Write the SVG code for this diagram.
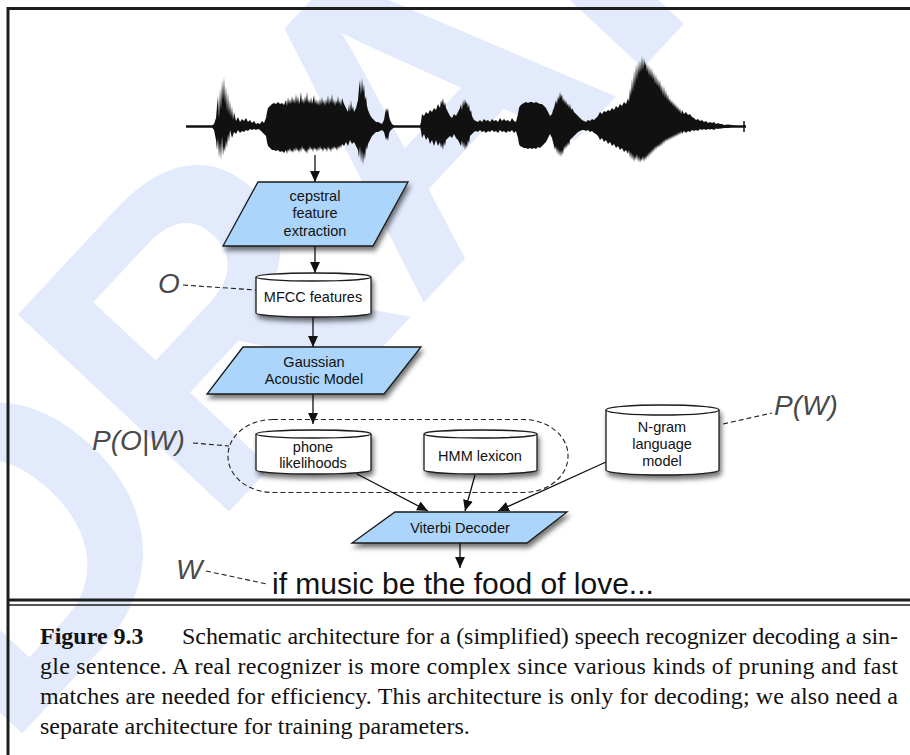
<svg xmlns="http://www.w3.org/2000/svg" width="910" height="755" viewBox="0 0 910 755">
<defs>
<style>
.node text{font-family:"Liberation Sans",Arial,sans-serif;font-size:14.5px;fill:#111;text-anchor:middle}
.para{fill:#abd5fb;stroke:#1a1a1a;stroke-width:1.3}
.cyl{fill:#fff;stroke:#1a1a1a;stroke-width:1.3}
.lbl{font-family:"Liberation Sans",Arial,sans-serif;font-style:italic;font-size:28px;fill:#4a4a4a}
.arr{stroke:#111;stroke-width:1.3;fill:none;marker-end:url(#ah)}
.dash{stroke:#222;stroke-width:1.1;fill:none;stroke-dasharray:5 3}
.cap{font-family:"Liberation Serif","Times New Roman",serif;font-size:24px;fill:#111}
</style>
<marker id="ah" viewBox="0 0 10 10" refX="10" refY="5" markerWidth="11" markerHeight="11" markerUnits="userSpaceOnUse" orient="auto"><path d="M0,0.5 L10,5 L0,9.5 z" fill="#111"/></marker>
<filter id="sh" x="-20%" y="-30%" width="150%" height="180%"><feDropShadow dx="2" dy="4" stdDeviation="2.5" flood-color="#000" flood-opacity="0.55"/></filter>
</defs>
<rect width="910" height="755" fill="#fff"/>
<text id="watermark" transform="translate(3,754) rotate(-47)" font-family="Liberation Sans,Arial,sans-serif" font-weight="bold" font-size="420" fill="#e2eafb">DRAFT</text>
<g id="frame" stroke="#1e1e1e" fill="none">
<line x1="8" y1="8.5" x2="910" y2="8.5" stroke-width="3"/>
<line x1="8" y1="7" x2="8" y2="755" stroke-width="3"/>
<line x1="8" y1="600" x2="910" y2="600" stroke-width="3"/>
<line x1="8" y1="605" x2="910" y2="605" stroke-width="1.5"/>
</g>
<g id="waveform" fill="#111">
<line x1="186" y1="126.5" x2="746" y2="126.5" stroke="#111" stroke-width="2"/>
<line x1="744" y1="121" x2="744" y2="132" stroke="#111" stroke-width="1.5"/>
<path d="M186,125.5 L212,125.5 214,124 216,118 217,106 218,96 219,118 220,88 221,110 222,80 223,100 224,77 225,104 226,86 227,112 228,92 229,115 230,100 231,117 232,106 233,120 234,112 236,121 238,117 240,122 242,119 244,121 246,118 248,122 250,120 252,123 254,121 256,124 258,123 260,124 262,121 264,123 266,118 267,112 268,108 270,106 272,104 274,103 276,104 278,102 280,104 282,103 284,105 286,100 287,106 288,97 289,104 290,99 291,104 292,96 293,103 294,98 295,104 296,94 297,103 298,96 299,104 300,100 301,92 302,103 303,98 304,104 305,96 306,102 307,92 308,103 309,99 310,104 311,97 312,104 313,100 314,95 315,104 316,99 317,105 318,100 319,106 320,98 321,105 322,97 323,104 324,100 325,106 326,99 327,104 328,95 329,105 330,98 331,103 332,94 333,104 334,99 335,106 336,100 337,104 338,96 339,104 340,100 341,106 342,98 344,104 346,108 348,112 349,104 350,112 351,100 352,110 353,106 354,112 356,108 358,100 359,88 360,80 361,95 362,78 363,92 364,84 365,100 366,96 367,106 368,110 370,115 372,118 374,120 376,122 378,122 380,123 382,124 384,120 385,114 386,108 387,112 388,108 389,116 390,120 392,124 394,125.5 420,125.5 421,122 422,114 424,116 426,112 428,114 430,110 432,112 434,108 436,110 438,104 440,108 441,100 442,104 443,98 444,106 445,102 446,108 448,112 450,116 452,118 454,114 456,116 458,112 460,108 461,104 462,110 463,100 464,106 465,99 466,104 467,102 468,108 469,104 470,112 471,110 472,116 474,120 476,121 478,122 480,120 482,122 484,119 486,121 488,120 490,122 492,119 494,121 496,120 498,122 500,118 502,121 504,119 506,121 508,120 510,122 512,118 514,121 516,122 518,114 519,108 520,106 522,104 524,103 526,102 528,103 530,102 532,102 534,103 536,102 538,103 540,104 542,104 544,106 546,108 548,112 550,116 552,114 553,110 554,108 555,104 556,100 557,104 558,96 559,100 560,92 561,98 562,94 563,102 564,98 565,104 566,100 567,106 568,103 569,108 570,104 571,110 572,108 574,112 576,114 578,116 580,118 582,120 584,121 586,122 588,120 590,121 592,119 594,120 596,118 598,116 600,112 602,114 604,111 606,112 608,110 610,111 612,108 614,110 616,106 618,108 620,104 622,106 624,102 626,104 628,98 629,102 630,88 631,96 632,78 633,92 634,70 635,86 636,64 637,80 638,62 639,74 640,60 641,72 642,56 643,70 644,58 645,66 646,62 647,72 648,64 649,76 650,66 651,78 652,68 653,80 654,72 655,84 656,74 657,86 658,78 659,88 660,80 661,92 662,84 663,96 664,86 665,98 666,90 667,100 668,94 669,102 670,98 671,104 672,100 673,106 674,102 675,108 676,104 677,110 678,106 679,112 680,108 681,114 682,110 684,114 686,112 688,115 690,114 692,117 694,118 696,120 698,119 700,121 702,120 704,122 706,121 708,123 710,122 712,123 714,122 716,124 718,123 720,124 722,124 724,125 728,124.5 732,125 736,125.5 746,125.5 746,126.5 186,126.5 Z"/>
<path d="M186,127.5 L212,127.5 214,130 216,140 217,150 218,138 219,158 220,142 221,160 222,136 223,156 224,146 225,152 226,140 227,148 228,134 229,142 230,130 232,138 234,132 236,134 238,130 240,133 242,131 244,132 246,130 248,131 250,129 252,130 254,129 256,130 258,129 260,130 262,132 264,134 266,136 267,142 268,146 270,148 272,150 274,150 276,151 278,150 280,152 282,151 284,153 286,150 287,154 288,149 289,152 290,148 291,152 292,150 293,153 294,148 295,152 296,147 297,151 298,149 299,153 300,148 301,152 302,146 303,150 304,148 305,152 306,150 307,154 308,148 309,151 310,146 311,150 312,148 313,152 314,147 315,150 316,148 317,152 318,147 319,151 320,146 321,150 322,148 323,152 324,147 325,150 326,148 327,152 328,146 329,150 330,148 331,152 332,147 333,150 334,146 335,149 336,147 337,151 338,146 339,149 340,145 341,148 342,144 344,146 346,142 348,146 350,140 352,144 354,142 356,146 358,150 359,158 360,146 361,162 362,150 363,165 364,152 365,160 366,146 367,150 368,144 370,140 372,136 374,134 376,132 378,132 380,131 382,130 384,132 385,136 386,140 387,137 388,141 389,134 390,131 392,129 394,127.5 420,127.5 421,131 422,138 424,134 426,140 428,137 430,144 432,140 434,146 436,140 438,146 440,142 441,148 442,144 443,150 444,142 445,146 446,140 448,138 450,136 452,138 454,134 456,138 458,140 460,144 461,146 462,140 463,148 464,142 465,150 466,144 467,148 468,140 469,144 470,136 472,134 474,132 476,131 478,132 480,130 482,132 484,131 486,133 488,131 490,132 492,130 494,132 496,131 498,133 500,130 502,132 504,131 506,133 508,131 510,132 512,130 514,133 516,131 518,138 519,144 520,146 522,147 524,148 526,148 528,149 530,148 532,149 534,148 536,149 538,147 540,148 542,146 544,144 546,142 548,138 550,134 552,138 553,142 554,146 555,150 556,146 557,154 558,148 559,156 560,150 561,157 562,150 563,155 564,146 565,150 566,144 567,148 568,142 569,146 570,140 572,138 574,136 576,134 578,132 580,131 582,130 584,130 586,131 588,130 590,132 592,131 594,133 596,134 598,136 600,140 602,138 604,142 606,140 608,144 610,142 612,146 614,144 616,148 618,146 620,150 622,148 624,152 626,150 628,154 629,150 630,158 631,152 632,160 633,154 634,162 635,156 636,160 637,154 638,162 639,156 640,163 641,158 642,161 643,156 644,162 645,156 646,160 647,154 648,158 649,152 650,156 651,150 652,154 653,148 654,152 655,146 656,150 657,145 658,148 659,144 660,147 661,142 662,146 663,140 664,144 665,139 666,142 667,138 668,141 669,137 670,140 671,136 672,139 673,135 674,138 675,134 676,137 677,133 678,136 679,132 680,135 681,131 682,134 684,131 686,133 688,131 690,132 692,130 694,131 696,130 698,131 700,129 702,130 704,129 706,130 708,129 710,129.5 712,129 714,130 716,128.5 718,129 720,128.5 722,128.5 724,128 728,128 732,127.5 736,127.5 746,127.5 746,126.5 186,126.5 Z"/>
</g>
<g id="connectors">
<line class="arr" x1="315" y1="155" x2="315" y2="182"/>
<line class="arr" x1="315" y1="246" x2="315" y2="273"/>
<line class="arr" x1="313" y1="317" x2="313" y2="347"/>
<line class="arr" x1="313" y1="394" x2="313" y2="424"/>
<line class="arr" x1="357" y1="474" x2="428" y2="511"/>
<line class="arr" x1="475" y1="475" x2="465" y2="511"/>
<line class="arr" x1="606" y1="462" x2="498" y2="511"/>
<line class="arr" x1="460" y1="543" x2="460" y2="568"/>
<line class="dash" x1="183" y1="285" x2="256" y2="290"/>
<line class="dash" x1="193" y1="443" x2="229" y2="446"/>
<line class="dash" x1="723" y1="424" x2="772" y2="413"/>
<line class="dash" x1="206" y1="571" x2="267" y2="584"/>
<rect class="dash" x="228" y="419.5" width="340" height="73" rx="45" ry="36" stroke-dasharray="6 4"/>
</g>
<g id="cepstral" class="node">
<path class="para" filter="url(#sh)" d="M258,182 L408,182 L373,246 L223,246 Z"/>
<text x="315" y="201">cepstral</text>
<text x="315" y="218">feature</text>
<text x="315" y="236">extraction</text>
</g>
<g id="mfcc" class="node">
<path class="cyl" filter="url(#sh)" d="M256,277 A57.5,4 0 0 1 371,277 V313 A57.5,4 0 0 1 256,313 Z"/>
<path class="cyl" d="M256,277 A57.5,4 0 0 0 371,277"/>
<text x="313" y="302">MFCC features</text>
</g>
<g id="gaussian" class="node">
<path class="para" filter="url(#sh)" d="M243,347 L421,347 L384,394 L207,394 Z"/>
<text x="314" y="367">Gaussian</text>
<text x="314" y="384">Acoustic Model</text>
</g>
<g id="phone" class="node">
<path class="cyl" filter="url(#sh)" d="M256,434 A57.5,4 0 0 1 371,434 V470 A57.5,4 0 0 1 256,470 Z"/>
<path class="cyl" d="M256,434 A57.5,4 0 0 0 371,434"/>
<text x="313" y="452">phone</text>
<text x="313" y="468">likelihoods</text>
</g>
<g id="hmm" class="node">
<path class="cyl" filter="url(#sh)" d="M424,434 A56.5,4 0 0 1 537,434 V470 A56.5,4 0 0 1 424,470 Z"/>
<path class="cyl" d="M424,434 A56.5,4 0 0 0 537,434"/>
<text x="480" y="461">HMM lexicon</text>
</g>
<g id="ngram" class="node">
<path class="cyl" filter="url(#sh)" d="M606,410 A56.5,5 0 0 1 719,410 V470 A56.5,5 0 0 1 606,470 Z"/>
<path class="cyl" d="M606,410 A56.5,5 0 0 0 719,410"/>
<text x="662" y="432">N-gram</text>
<text x="662" y="449">language</text>
<text x="662" y="466">model</text>
</g>
<g id="viterbi" class="node">
<path class="para" filter="url(#sh)" d="M395,512 L567,512 L527,543 L352,543 Z"/>
<text x="460" y="533">Viterbi Decoder</text>
</g>
<g id="labels">
<text class="lbl" x="158" y="293">O</text>
<text class="lbl" x="92" y="450">P(O|W)</text>
<text class="lbl" x="774" y="415">P(W)</text>
<text class="lbl" x="176" y="579">W</text>
<text x="272" y="594" font-family="Liberation Sans,Arial,sans-serif" font-size="30" fill="#111">if music be the food of love...</text>
</g>
<g id="caption">
<text class="cap" x="40" y="644"><tspan font-weight="bold">Figure 9.3</tspan></text>
<text class="cap" x="182" y="644" textLength="716" lengthAdjust="spacing">Schematic architecture for a (simplified) speech recognizer decoding a sin-</text>
<text class="cap" x="40" y="674" textLength="858" lengthAdjust="spacing">gle sentence.  A real recognizer is more complex since various kinds of pruning and fast</text>
<text class="cap" x="40" y="704" textLength="858" lengthAdjust="spacing">matches are needed for efficiency. This architecture is only for decoding; we also need a</text>
<text class="cap" x="40" y="734">separate architecture for training parameters.</text>
</g>
</svg>
